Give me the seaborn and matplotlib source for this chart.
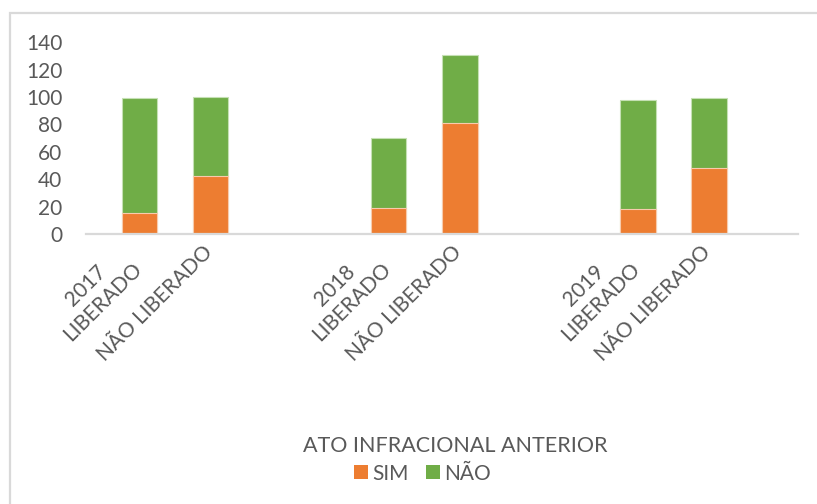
import matplotlib
matplotlib.use("Agg")
import matplotlib.pyplot as plt
from matplotlib.patches import Patch, Rectangle
from matplotlib.transforms import ScaledTranslation
import numpy as np
import pandas as pd
import seaborn as sns

# Data: counts per year and release status, split by previous offence (SIM / NÃO)
years = ["2017", "2018", "2019"]
status = ["LIBERADO", "NÃO LIBERADO"]
sim = [15, 42, 19, 81, 18, 48]
nao = [84, 58, 51, 50, 80, 51]
legend_title = "ATO INFRACIONAL ANTERIOR"
series_names = ["SIM", "NÃO"]

ORANGE = "#ED7D31"
GREEN = "#70AD47"
TEXT = "#595959"
AXIS = "#D9D9D9"

sns.set_theme(style="white")
plt.rcParams["font.family"] = ["Lato", "DejaVu Sans"]

rows = []
for gi, year in enumerate(years):
    for si, st in enumerate(status):
        k = gi * len(status) + si
        label = f"{year}\n{st}" if si == 0 else st
        rows.append({"pos": gi * 3.5 + si, "label": label,
                     "sim": sim[k], "nao": nao[k], "total": sim[k] + nao[k]})
df = pd.DataFrame(rows)

fig = plt.figure(figsize=(8.17, 5.04), dpi=100)
ax = fig.add_axes([86 / 817, 270 / 504, 712 / 817, 191.7 / 504])

# stacked columns: full height in green, SIM part drawn over it in orange
sns.barplot(data=df, x="pos", y="total", native_scale=True, width=0.5,
            color=GREEN, saturation=1, errorbar=None, ax=ax,
            edgecolor="#C5E0B4", linewidth=0.8)
sns.barplot(data=df, x="pos", y="sim", native_scale=True, width=0.5,
            color=ORANGE, saturation=1, errorbar=None, ax=ax,
            edgecolor="#F8CBAD", linewidth=0.8)

ax.set_xlim(-0.75, 9.25)
ax.set_ylim(0, 140)
ax.set_yticks(np.arange(0, 141, 20))
ax.set_xticks(df["pos"])
ax.set_xticklabels(df["label"], rotation=45, ha="right", va="top",
                   multialignment="center")
ax.set_xlabel("")
ax.set_ylabel("")
ax.tick_params(axis="both", length=0, labelsize=15, colors=TEXT)
ax.tick_params(axis="y", pad=17)
ax.tick_params(axis="x", pad=6)

# nudge the rotated category labels so their ends sit under the columns
shift = ScaledTranslation(6 / 100, 0, fig.dpi_scale_trans)
for lbl in ax.get_xticklabels():
    lbl.set_transform(lbl.get_transform() + shift)

for side in ["top", "right", "left"]:
    ax.spines[side].set_visible(False)
ax.spines["bottom"].set_color(AXIS)
ax.spines["bottom"].set_linewidth(1.6)
ax.grid(False)

# chart-area border
fig.patches.append(Rectangle((10 / 817, -0.2), 1.3, 1.2 - 13 / 504,
                             transform=fig.transFigure, fill=False,
                             edgecolor=AXIS, linewidth=1.6))

fig.text(455 / 817, 1 - 445.5 / 504, legend_title, ha="center", va="center",
         fontsize=15.5, color=TEXT)
handles = [Patch(facecolor=ORANGE, edgecolor="none"),
           Patch(facecolor=GREEN, edgecolor="none")]
fig.legend(handles, series_names, loc="center",
           bbox_to_anchor=(422.5 / 817, 1 - 473.5 / 504),
           ncol=2, frameon=False, fontsize=15, labelcolor=TEXT,
           handlelength=0.67, handleheight=0.67, handletextpad=0.2,
           columnspacing=0.85, borderpad=0)

fig.savefig("out.png", dpi=100, facecolor="white")
